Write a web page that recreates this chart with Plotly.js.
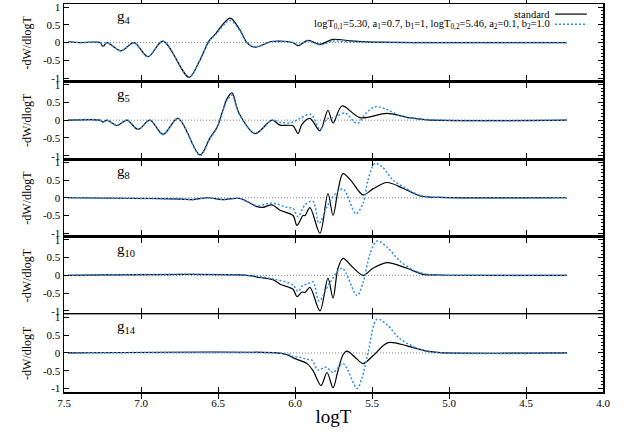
<!DOCTYPE html>
<html>
<head>
<meta charset="utf-8">
<script src="https://cdn.plot.ly/plotly-3.0.1.min.js"></script>
<style>html,body{margin:0;padding:0;background:#fff;}#chart{width:630px;height:433px;}</style>
</head>
<body>
<div id="chart"></div>
<script>
// ---- data ----
const panelLabels = ['g<sub>4</sub>', 'g<sub>5</sub>', 'g<sub>8</sub>', 'g<sub>10</sub>', 'g<sub>14</sub>'];
const xTickVals = [7.5, 7.0, 6.5, 6.0, 5.5, 5.0, 4.5, 4.0];
const xTickText = ['7.5', '7.0', '6.5', '6.0', '5.5', '5.0', '4.5', '4.0'];
const yTickVals = [-1, -0.5, 0, 0.5, 1];
const yTickText = ['-1', '-0.5', '0', '0.5', '1'];
const zeroX = [7.474, 4.234];

// g4
const g4_x = [7.474, 7.396, 7.266, 7.247, 7.221, 7.130, 7.045, 6.955, 6.857, 6.688, 6.617, 6.558, 6.519, 6.422, 6.357, 6.312, 6.260, 6.149, 6.013, 5.981, 5.916, 5.838, 5.753, 5.643, 5.448, 4.234];
const g4_std = [0.03, 0.0, 0.0, -0.11, 0.0, -0.235, 0.0, -0.40, 0.04, -0.98, -0.49, 0.05, 0.23, 0.69, 0.35, 0.0, -0.13, 0.03, 0.0, -0.09, 0.06, -0.05, 0.09, 0.05, 0.01, 0.0];
const g4_mod = [0.03, 0.0, 0.0, -0.10, 0.0, -0.23, 0.0, -0.39, 0.04, -0.97, -0.48, 0.05, 0.21, 0.62, 0.33, 0.0, -0.12, 0.03, 0.0, -0.07, 0.05, -0.07, 0.04, 0.02, 0.005, 0.0];

// g5
const g5_x_std = [7.474, 7.266, 7.247, 7.221, 7.156, 7.091, 7.019, 6.942, 6.857, 6.760, 6.617, 6.552, 6.506, 6.474, 6.442, 6.409, 6.377, 6.364, 6.260, 6.149, 6.097, 6.013, 5.981, 5.955, 5.903, 5.838, 5.786, 5.753, 5.695, 5.578, 5.403, 5.273, 5.143, 4.234];
const g5_std = [0.0, 0.0, -0.05, 0.0, -0.15, 0.0, -0.26, 0.0, -0.40, 0.05, -0.98, -0.5, -0.2, 0.2, 0.6, 0.77, 0.35, 0.2, -0.38, 0.0, -0.14, -0.16, -0.38, -0.12, 0.05, -0.3, 0.28, -0.08, 0.4, 0.07, 0.19, 0.08, 0.01, 0.0];
const g5_x_mod = [7.474, 7.266, 7.247, 7.221, 7.156, 7.091, 7.019, 6.942, 6.857, 6.760, 6.617, 6.552, 6.506, 6.474, 6.442, 6.409, 6.377, 6.364, 6.260, 6.149, 6.097, 6.026, 5.968, 5.896, 5.838, 5.792, 5.740, 5.675, 5.597, 5.539, 5.481, 5.403, 5.318, 5.188, 4.234];
const g5_mod = [0.0, 0.0, -0.05, 0.0, -0.15, 0.0, -0.26, 0.0, -0.41, 0.05, -1.0, -0.52, -0.22, 0.18, 0.55, 0.70, 0.33, 0.18, -0.37, 0.0, -0.06, -0.07, 0.05, 0.16, -0.26, 0.03, 0.08, 0.2, -0.09, 0.2, 0.38, 0.3, 0.13, 0.03, 0.0];

// g8
const g8_x_std = [7.474, 6.942, 6.792, 6.662, 6.571, 6.468, 6.357, 6.247, 6.208, 6.149, 6.097, 6.013, 5.987, 5.948, 5.935, 5.903, 5.838, 5.786, 5.753, 5.721, 5.688, 5.630, 5.558, 5.494, 5.403, 5.299, 5.188, 5.058, 4.234];
const g8_std = [0.0, -0.02, -0.03, -0.05, 0.0, -0.05, -0.02, -0.25, -0.27, -0.2, -0.35, -0.5, -0.78, -0.5, -0.5, -0.28, -1.0, 0.12, -0.5, 0.2, 0.68, 0.45, 0.08, 0.25, 0.43, 0.27, 0.05, 0.01, 0.0];
const g8_x_mod = [7.474, 6.942, 6.792, 6.662, 6.571, 6.468, 6.357, 6.247, 6.149, 6.052, 6.013, 5.981, 5.935, 5.883, 5.844, 5.792, 5.740, 5.688, 5.604, 5.558, 5.526, 5.481, 5.429, 5.364, 5.273, 5.188, 5.058, 4.234];
const g8_mod = [0.0, -0.02, -0.03, -0.05, 0.0, -0.05, -0.02, -0.22, -0.15, -0.27, -0.3, -0.53, -0.2, -0.1, -0.72, -0.25, 0.1, 0.25, -0.45, -0.15, 0.5, 0.97, 0.85, 0.5, 0.25, 0.07, 0.01, 0.0];

// g10
const g10_x_std = [7.474, 6.312, 6.228, 6.143, 6.097, 6.013, 5.987, 5.955, 5.935, 5.903, 5.838, 5.786, 5.753, 5.721, 5.688, 5.630, 5.558, 5.494, 5.403, 5.273, 5.169, 5.058, 4.234];
const g10_std = [0.0, 0.0, -0.06, -0.12, -0.25, -0.39, -0.6, -0.47, -0.48, -0.34, -1.0, -0.08, -0.64, 0.2, 0.48, 0.25, 0.0, 0.2, 0.36, 0.2, 0.03, 0.01, 0.0];
const g10_x_mod = [7.474, 6.312, 6.143, 6.013, 5.981, 5.948, 5.922, 5.883, 5.844, 5.773, 5.695, 5.597, 5.558, 5.513, 5.468, 5.403, 5.318, 5.234, 5.143, 5.058, 4.234];
const g10_mod = [0.0, 0.0, -0.1, -0.27, -0.45, -0.28, -0.25, -0.18, -0.72, -0.2, 0.2, -0.57, -0.2, 0.6, 0.97, 0.8, 0.4, 0.15, 0.03, 0.01, 0.0];

// g14
const g14_x_std = [7.474, 6.117, 6.052, 6.013, 5.987, 5.922, 5.883, 5.831, 5.792, 5.753, 5.721, 5.688, 5.662, 5.610, 5.558, 5.494, 5.396, 5.273, 5.143, 5.058, 4.234];
const g14_std = [0.0, 0.0, -0.05, -0.13, -0.18, -0.3, -0.5, -0.92, -0.55, -0.98, -0.5, -0.05, 0.05, -0.12, -0.3, -0.08, 0.29, 0.2, 0.05, 0.01, 0.0];
const g14_x_mod = [7.474, 6.117, 6.052, 6.013, 5.968, 5.922, 5.890, 5.851, 5.799, 5.753, 5.688, 5.597, 5.565, 5.526, 5.468, 5.403, 5.318, 5.188, 5.104, 4.234];
const g14_mod = [0.0, 0.0, -0.03, -0.1, -0.12, -0.18, -0.2, -0.48, -0.4, -0.55, -0.3, -1.0, -0.7, 0.0, 0.95, 0.8, 0.4, 0.1, 0.02, 0.0];

const legendStd = 'standard';
const legendMod = 'logT<sub>0,1</sub>=5.30, a<sub>1</sub>=0.7, b<sub>1</sub>=1, logT<sub>0,2</sub>=5.46, a<sub>2</sub>=0.1, b<sub>2</sub>=1.0';

// ---- build figure ----
const panels = [
  {xs: g4_x, ys: g4_std, xm: g4_x, ym: g4_mod},
  {xs: g5_x_std, ys: g5_std, xm: g5_x_mod, ym: g5_mod},
  {xs: g8_x_std, ys: g8_std, xm: g8_x_mod, ym: g8_mod},
  {xs: g10_x_std, ys: g10_std, xm: g10_x_mod, ym: g10_mod},
  {xs: g14_x_std, ys: g14_std, xm: g14_x_mod, ym: g14_mod}
];
const BLUE = '#2f8ff0';
const FONT = 'Liberation Serif, Times New Roman, serif';
const YRANGE = [-1.1, 1.087];
const traces = [];
const layout = {
  width: 630, height: 433,
  margin: {l: 64, r: 27, t: 4, b: 41},
  paper_bgcolor: '#fff', plot_bgcolor: '#fff',
  showlegend: false,
  font: {family: FONT, size: 12, color: '#000'},
  annotations: [], shapes: [],
  xaxis: {
    range: [7.5, 4.0], domain: [0, 1], anchor: 'y5',
    tickvals: xTickVals, ticktext: xTickText,
    ticks: 'inside', ticklen: 5, tickwidth: 1, tickcolor: '#000',
    showline: true, linewidth: 1.5, linecolor: '#000', mirror: 'allticks',
    showgrid: false, zeroline: false,
    tickfont: {family: FONT, size: 11},
    title: {text: 'logT', font: {family: FONT, size: 19}, standoff: 2}
  }
};
panels.forEach((p, i) => {
  const yn = i === 0 ? 'y' : 'y' + (i + 1);
  const yk = i === 0 ? 'yaxis' : 'yaxis' + (i + 1);
  const rn = 'y' + (i + 6);
  const rk = 'yaxis' + (i + 6);
  traces.push({x: zeroX, y: [0, 0], xaxis: 'x', yaxis: yn, mode: 'lines', hoverinfo: 'skip',
    line: {color: '#777', width: 0.9, dash: '1px,2px'}});
  traces.push({x: p.xs, y: p.ys, xaxis: 'x', yaxis: yn, mode: 'lines', name: 'standard',
    line: {color: '#000', width: 1.2, shape: 'spline', smoothing: 0.9}});
  traces.push({x: p.xm, y: p.ym, xaxis: 'x', yaxis: yn, mode: 'lines', name: 'modified',
    line: {color: BLUE, width: 1.5, dash: '2px,2px', shape: 'spline', smoothing: 0.9}});
  // empty trace so the right-hand tick axis gets its subplot
  traces.push({x: [], y: [], xaxis: 'x', yaxis: rn, mode: 'lines', hoverinfo: 'skip'});
  const top = 1 - i * 0.2;
  layout[yk] = {
    domain: [top - 0.2, top], anchor: 'x',
    range: YRANGE,
    tickvals: yTickVals, ticktext: yTickText,
    ticks: 'inside', ticklen: 5, tickwidth: 1, tickcolor: '#000',
    showline: true, linewidth: 1.5, linecolor: '#000', mirror: true,
    showgrid: false, zeroline: false,
    tickfont: {family: FONT, size: 11},
    title: {text: '-dW/dlogT', font: {family: FONT, size: 12}, standoff: 8}
  };
  layout[rk] = {
    domain: [top - 0.2, top], anchor: 'x', overlaying: yn, side: 'right',
    range: YRANGE,
    tickvals: yTickVals, showticklabels: false,
    ticks: 'inside', ticklen: 5, tickwidth: 1, tickcolor: '#000',
    minor: {tickmode: 'linear', tick0: 0, dtick: 0.1, ticks: 'inside', ticklen: 2.5, tickwidth: 1, tickcolor: '#000', showgrid: false},
    showline: false, showgrid: false, zeroline: false
  };
  layout.annotations.push({x: 7.17, y: 0.72, xref: 'x', yref: yn, text: panelLabels[i],
    showarrow: false, xanchor: 'left', yanchor: 'middle', font: {family: FONT, size: 15}});
});
// legend (gnuplot style: text left, sample right)
layout.annotations.push({x: 0.9054, y: 0.974, xref: 'paper', yref: 'paper', text: legendStd,
  showarrow: false, xanchor: 'right', yanchor: 'middle', font: {family: FONT, size: 10.5}});
layout.annotations.push({x: 0.9054, y: 0.948, xref: 'paper', yref: 'paper', text: legendMod,
  showarrow: false, xanchor: 'right', yanchor: 'middle', font: {family: FONT, size: 10.5}});
layout.shapes.push({type: 'line', xref: 'paper', yref: 'paper', x0: 0.911, x1: 0.970, y0: 0.974, y1: 0.974,
  line: {color: '#000', width: 1.2}});
layout.shapes.push({type: 'line', xref: 'paper', yref: 'paper', x0: 0.911, x1: 0.970, y0: 0.948, y1: 0.948,
  line: {color: BLUE, width: 1.5, dash: '2px,2px'}});

Plotly.newPlot('chart', traces, layout, {displayModeBar: false, staticPlot: true});
</script>
</body>
</html>
